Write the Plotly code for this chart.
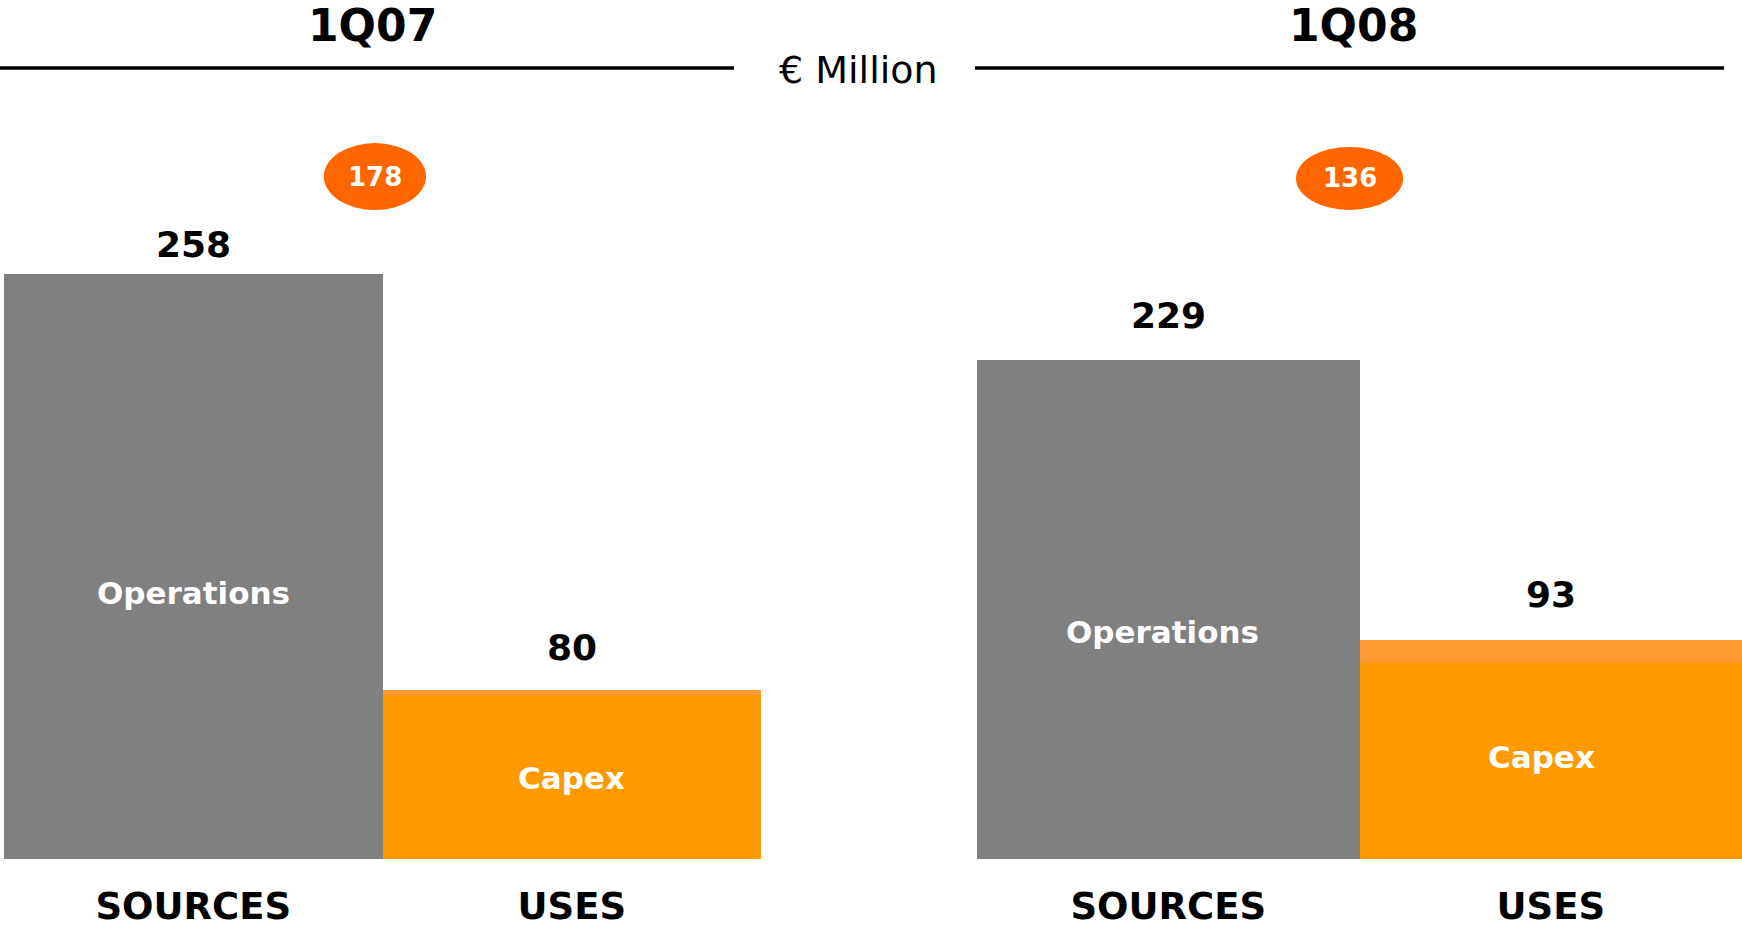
import plotly.graph_objects as go

# ---------------- data ----------------
quarters = ["1Q07", "1Q08"]
categories = ["SOURCES", "USES"]
operations = [258, 229]          # gray "Operations" bar (sources)
capex = [72.5, 90]               # orange "Capex" segment (uses), as drawn
other_uses = [2, 10.5]           # light-orange band on top of the uses bar, as drawn
source_labels = ["258", "229"]
use_labels = ["80", "93"]
net_labels = ["178", "136"]
unit_label = "€ Million"

# ---------------- style ----------------
W, H = 1742, 927
GRAY = "#808080"
ORANGE = "#FF9900"
LIGHT_ORANGE = "#FF9933"
BUBBLE = "#FF6600"
FONT = "DejaVu Sans, Verdana, sans-serif"
base_px = 859
x_domains = [[4 / W, 761 / W], [977 / W, 1.0]]
y_tops = [859 / 2.267, 859 / 2.179]
src_shift = [7, 22]
use_shift = [20, 23]

fig = go.Figure()
axis_ids = ["", "2"]
for i, q in enumerate(quarters):
    xa, ya = "x" + axis_ids[i], "y" + axis_ids[i]
    fig.add_trace(go.Bar(x=[categories[0]], y=[operations[i]], marker=dict(color=GRAY, line_width=0),
                         xaxis=xa, yaxis=ya, showlegend=False, hoverinfo="skip"))
    fig.add_trace(go.Bar(x=[categories[1]], y=[capex[i]], marker=dict(color=ORANGE, line_width=0),
                         xaxis=xa, yaxis=ya, showlegend=False, hoverinfo="skip"))
    fig.add_trace(go.Bar(x=[categories[1]], y=[other_uses[i]], marker=dict(color=LIGHT_ORANGE, line_width=0),
                         xaxis=xa, yaxis=ya, showlegend=False, hoverinfo="skip"))

    # value labels above bars
    fig.add_annotation(x=categories[0], y=operations[i], xref=xa, yref=ya, text=f"<b>{source_labels[i]}</b>",
                       showarrow=False, yanchor="bottom", yshift=src_shift[i],
                       font=dict(family=FONT, size=36, color="black"))
    fig.add_annotation(x=categories[1], y=capex[i] + other_uses[i], xref=xa, yref=ya,
                       text=f"<b>{use_labels[i]}</b>", showarrow=False, yanchor="bottom", yshift=use_shift[i],
                       font=dict(family=FONT, size=36, color="black"))
    # inner labels
    fig.add_annotation(x=categories[0], y=operations[i] * 0.455, xref=xa, yref=ya, text="<b>Operations</b>",
                       showarrow=False, xshift=[0, -6][i], font=dict(family=FONT, size=31, color="white"))
    fig.add_annotation(x=categories[1], y=capex[i] * [0.49, 0.52][i], xref=xa, yref=ya, text="<b>Capex</b>",
                       showarrow=False, xshift=[0, -9][i], font=dict(family=FONT, size=31, color="white"))

    # net bubble
    bx0, bx1 = [(0.345, 0.615), (0.334, 0.614)][i]
    by0, by1 = [(286.3, 315.8), (297.9, 326.8)][i]
    fig.add_shape(type="circle", xref=xa, yref=ya, x0=bx0, x1=bx1, y0=by0, y1=by1,
                  fillcolor=BUBBLE, line_width=0, layer="above")
    fig.add_annotation(x=(bx0 + bx1) / 2, y=(by0 + by1) / 2, xref=xa, yref=ya, text=f"<b>{net_labels[i]}</b>",
                       showarrow=False, font=dict(family=FONT, size=26, color="white"))

# headers
fig.add_annotation(x=372 / W, y=1 - 26 / H, xref="paper", yref="paper", text="<b>1Q07</b>", showarrow=False,
                   xanchor="center", yanchor="middle", font=dict(family=FONT, size=44, color="black"))
fig.add_annotation(x=1353 / W, y=1 - 26 / H, xref="paper", yref="paper", text="<b>1Q08</b>", showarrow=False,
                   xanchor="center", yanchor="middle", font=dict(family=FONT, size=44, color="black"))
fig.add_annotation(x=858 / W, y=1 - 70 / H, xref="paper", yref="paper", text=unit_label, showarrow=False,
                   xanchor="center", yanchor="middle", font=dict(family=FONT, size=38, color="black"))
fig.add_shape(type="line", xref="paper", yref="paper", x0=0, x1=734 / W, y0=1 - 68 / H, y1=1 - 68 / H,
              line=dict(color="black", width=3.5))
fig.add_shape(type="line", xref="paper", yref="paper", x0=975 / W, x1=1724 / W, y0=1 - 68 / H, y1=1 - 68 / H,
              line=dict(color="black", width=3.5))

ydom = [(H - base_px) / H, 1.0]
common_x = dict(type="category", categoryorder="array", categoryarray=categories, range=[-0.5, 1.5],
                tickmode="array", tickvals=categories, ticktext=[f"<b>{c}</b>" for c in categories],
                showgrid=False, zeroline=False, showline=False, ticks="",
                tickfont=dict(family=FONT, size=37, color="black"), ticklabelstandoff=22)
common_y = dict(showgrid=False, zeroline=False, showline=False, showticklabels=False, ticks="", domain=ydom)

fig.update_layout(
    width=W, height=H, margin=dict(l=0, r=0, t=0, b=0),
    paper_bgcolor="white", plot_bgcolor="white",
    barmode="stack", bargap=0,
    xaxis=dict(domain=x_domains[0], anchor="y", **common_x),
    xaxis2=dict(domain=x_domains[1], anchor="y2", **common_x),
    yaxis=dict(range=[0, y_tops[0]], anchor="x", **common_y),
    yaxis2=dict(range=[0, y_tops[1]], anchor="x2", **common_y),
    showlegend=False,
)

fig.write_html("out.html", config={"displayModeBar": False},
               post_script="document.body.style.margin='0';document.body.style.overflow='hidden';")
